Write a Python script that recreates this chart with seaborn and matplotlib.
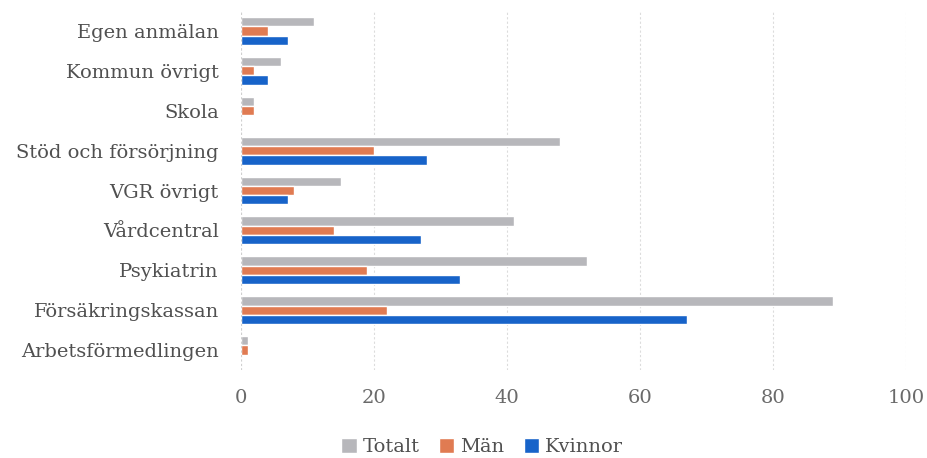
import matplotlib
matplotlib.use("Agg")
import matplotlib.pyplot as plt
import seaborn as sns
import pandas as pd

categories = ["Egen anmälan", "Kommun övrigt", "Skola", "Stöd och försörjning",
              "VGR övrigt", "Vårdcentral", "Psykiatrin", "Försäkringskassan",
              "Arbetsförmedlingen"]
totalt = [11, 6, 2, 48, 15, 41, 52, 89, 1]
man = [4, 2, 2, 20, 8, 14, 19, 22, 1]
kvinnor = [7, 4, 0, 28, 7, 27, 33, 67, 0]
series = ["Totalt", "Män", "Kvinnor"]
xticks = [0, 20, 40, 60, 80, 100]

rows = []
for s, vals in zip(series, [totalt, man, kvinnor]):
    for c, v in zip(categories, vals):
        rows.append({"Kategori": c, "Serie": s, "Antal": v})
df = pd.DataFrame(rows)

sns.set_theme(style="white")
plt.rcParams["font.family"] = ["DejaVu Serif", "Liberation Serif"]

fig = plt.figure(figsize=(9.27, 4.58), dpi=100)
ax = fig.add_axes([241/927, 1 - 370/458, (906-241)/927, (370-11)/458])

palette = {"Totalt": "#b7b7bb", "Män": "#e07b52", "Kvinnor": "#1763c9"}
sns.barplot(data=df, y="Kategori", x="Antal", hue="Serie", order=categories,
            hue_order=series, palette=palette, orient="h", width=0.7,
            saturation=1, ax=ax, legend=True)

ax.set_xlim(0, 100)
ax.set_xticks(xticks)
ax.set_xticklabels([str(t) for t in xticks])
ax.set_xlabel("")
ax.set_ylabel("")
for sp in ax.spines.values():
    sp.set_visible(False)
ax.xaxis.grid(True, color="#dcdcdc", linestyle=(0, (2, 2)), linewidth=0.8)
ax.set_axisbelow(True)
ax.axvline(0, color="#d0d0d0", linewidth=0.8, linestyle=(0, (2, 2)))
ax.tick_params(axis="x", labelsize=14, colors="#6a6a6a", pad=14, length=0)
ax.tick_params(axis="y", labelsize=14, colors="#505050", pad=16, length=0)

handles, labels = ax.get_legend_handles_labels()
ax.legend_.remove()
fig.legend(handles, labels, loc="center", bbox_to_anchor=(0.52, 1 - 447/458),
           ncol=3, frameon=False, fontsize=14, handlelength=0.8, handleheight=0.8,
           handletextpad=0.3, columnspacing=1.0, labelcolor="#505050")

fig.savefig("out.png", dpi=100)
